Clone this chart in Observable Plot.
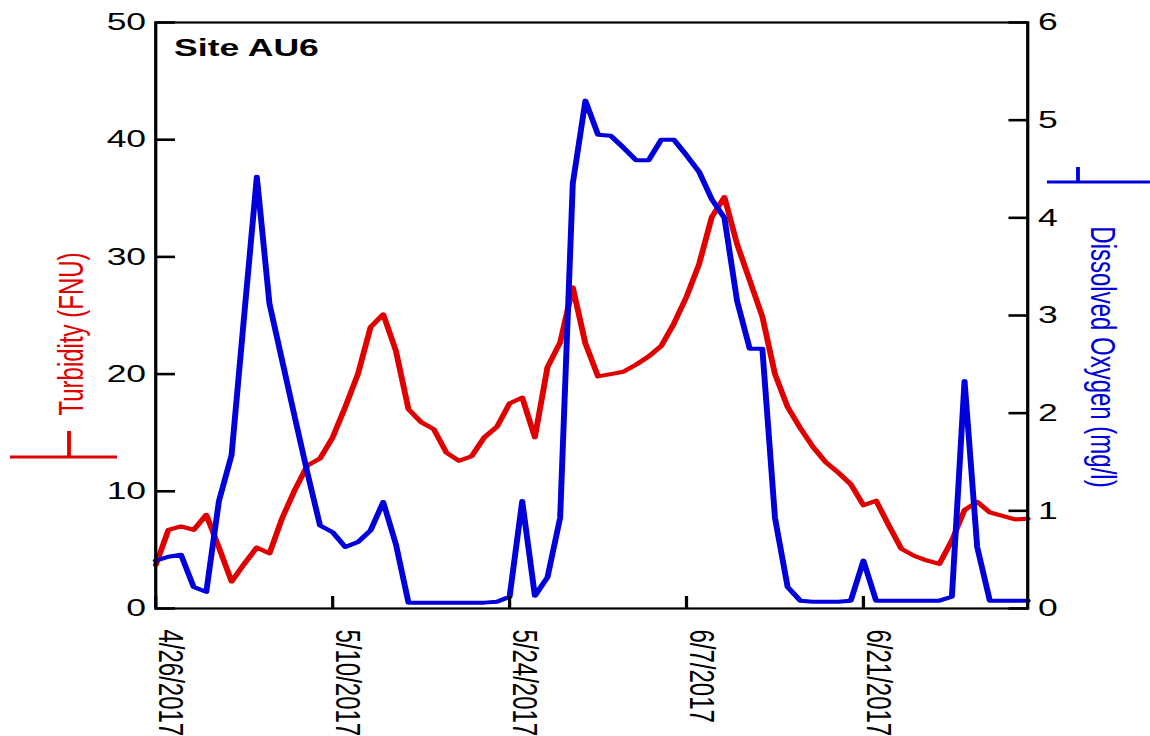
<!DOCTYPE html>
<html>
<head>
<meta charset="utf-8">
<script src="https://cdn.jsdelivr.net/npm/d3@7"></script>
<script src="https://cdn.jsdelivr.net/npm/@observablehq/plot@0.6"></script>
<style>
  html, body { margin: 0; padding: 0; background: #fff; overflow: hidden; }
  #chart svg { display: block; transform-origin: 0 0; }
</style>
</head>
<body>
<div id="chart"></div>
<script>
// Daily readings at site AU6
const dates = [
  "2017-04-26","2017-04-27","2017-04-28","2017-04-29","2017-04-30",
  "2017-05-01","2017-05-02","2017-05-03","2017-05-04","2017-05-05","2017-05-06","2017-05-07","2017-05-08","2017-05-09","2017-05-10",
  "2017-05-11","2017-05-12","2017-05-13","2017-05-14","2017-05-15","2017-05-16","2017-05-17","2017-05-18","2017-05-19","2017-05-20",
  "2017-05-21","2017-05-22","2017-05-23","2017-05-24","2017-05-25","2017-05-26","2017-05-27","2017-05-28","2017-05-29","2017-05-30","2017-05-31",
  "2017-06-01","2017-06-02","2017-06-03","2017-06-04","2017-06-05","2017-06-06","2017-06-07","2017-06-08","2017-06-09","2017-06-10",
  "2017-06-11","2017-06-12","2017-06-13","2017-06-14","2017-06-15","2017-06-16","2017-06-17","2017-06-18","2017-06-19","2017-06-20",
  "2017-06-21","2017-06-22","2017-06-23","2017-06-24","2017-06-25","2017-06-26","2017-06-27","2017-06-28","2017-06-29","2017-06-30",
  "2017-07-01","2017-07-02","2017-07-03","2017-07-04"
];

// Turbidity (FNU)
const turbidity = [
  3.7, 6.7, 7.0, 6.7, 8.0, 5.2, 2.3, 3.8, 5.2, 4.7,
  7.7, 10.1, 12.2, 12.8, 14.6, 17.2, 20.0, 24.0, 25.1, 22.0,
  17.0, 15.9, 15.3, 13.3, 12.6, 13.0, 14.6, 15.5, 17.5, 18.0,
  14.6, 20.6, 22.7, 27.4, 22.6, 19.8, 20.0, 20.2, 20.8, 21.5,
  22.4, 24.3, 26.6, 29.4, 33.4, 35.1, 31.1, 28.0, 24.9, 20.0,
  17.2, 15.4, 13.8, 12.5, 11.6, 10.6, 8.8, 9.2, 7.1, 5.1,
  4.5, 4.1, 3.8, 5.8, 8.4, 9.1, 8.2, 7.9, 7.6, 7.65
];

// Dissolved oxygen (mg/l)
const dissolvedOxygen = [
  0.49, 0.53, 0.55, 0.22, 0.17, 1.10, 1.57, 3.00, 4.42, 3.12,
  2.54, 1.96, 1.39, 0.85, 0.78, 0.63, 0.68, 0.80, 1.09, 0.66,
  0.06, 0.06, 0.06, 0.06, 0.06, 0.06, 0.06, 0.07, 0.12, 1.10,
  0.13, 0.32, 0.93, 4.35, 5.20, 4.85, 4.84, 4.72, 4.59, 4.59,
  4.80, 4.80, 4.64, 4.47, 4.19, 4.00, 3.15, 2.66, 2.66, 0.93,
  0.22, 0.08, 0.07, 0.07, 0.07, 0.08, 0.49, 0.08, 0.08, 0.08,
  0.08, 0.08, 0.08, 0.12, 2.33, 0.63, 0.08, 0.08, 0.08, 0.08
];

const dateTicks = ["4/26/2017", "5/10/2017", "5/24/2017", "6/7/2017", "6/21/2017"];
const turbidityTicks = [0, 10, 20, 30, 40, 50];
const oxygenTicks = [0, 1, 2, 3, 4, 5, 6];

const siteLabel = "Site AU6";
const turbidityTitle = "Turbidity (FNU)";
const oxygenTitle = "Dissolved Oxygen (mg/l)";

// ---- layout ----
// The figure is drawn narrow and widened with a horizontal stretch,
// giving the wide lettering and the thicker vertical strokes.
const STRETCH = 1.48;
const FULL_W = 1150;
const W = FULL_W / STRETCH;
const H = 736;
const X0 = 155 / STRETCH;         // left edge of the frame
const X1 = 1027 / STRETCH;        // right edge of the frame
const TOP = 22, BOTTOM = 608;

const RED = "#e00000";
const BLUE = "#0000dd";
const FONT = "'Liberation Sans', Arial, Helvetica, sans-serif";

// DO shares the turbidity scale: 0–6 mg/l spans 0–50 FNU
const TURB_MAX = 50, DO_MAX = 6;
const doToTurb = v => v * TURB_MAX / DO_MAX;

const parseDay = d3.utcParse("%Y-%m-%d");
const parseTick = d3.utcParse("%m/%d/%Y");

const rows = dates.map((d, i) => ({
  date: parseDay(d),
  turbidity: turbidity[i],
  oxygen: dissolvedOxygen[i]
}));

const Y_TICK = 20 / STRETCH;  // inward tick length on the value axes
const X_TICK = 12;            // inward tick length on the date axis

const chart = Plot.plot({
  width: W,
  height: H,
  marginLeft: X0,
  marginRight: W - X1,
  marginTop: TOP,
  marginBottom: H - BOTTOM,
  style: {
    fontFamily: FONT,
    fontSize: "24px",
    background: "#fff",
    color: "#000",
    overflow: "visible"
  },
  x: {type: "utc", domain: [parseDay(dates[0]), parseDay(dates[dates.length - 1])], axis: null},
  y: {domain: [0, TURB_MAX], axis: null},
  marks: [
    Plot.line(rows, {x: "date", y: "turbidity", stroke: RED, strokeWidth: 4, strokeLinejoin: "round"}),
    Plot.line(rows, {x: "date", y: d => doToTurb(d.oxygen), stroke: BLUE, strokeWidth: 4, strokeLinejoin: "round"}),

    Plot.frame({stroke: "#000", strokeWidth: 2.2}),

    // left axis: inward ticks + labels
    Plot.axisY(turbidityTicks, {anchor: "left", tickSize: Y_TICK, dx: Y_TICK, fill: "none", strokeWidth: 2.6, label: null}),
    Plot.axisY(turbidityTicks, {anchor: "left", tickSize: 0, tickPadding: 6.5, fontSize: 24, label: null}),

    // right axis (dissolved oxygen): inward ticks + labels
    Plot.axisY(oxygenTicks.map(doToTurb), {anchor: "right", tickSize: Y_TICK, dx: -Y_TICK, fill: "none", strokeWidth: 2.6, label: null}),
    Plot.axisY(oxygenTicks.map(doToTurb), {
      anchor: "right", tickSize: 0, tickPadding: 7, fontSize: 24, label: null,
      tickFormat: v => String(Math.round(v * DO_MAX / TURB_MAX))
    }),

    // date axis: inward ticks + rotated labels
    Plot.axisX(dateTicks.map(parseTick), {anchor: "bottom", tickSize: X_TICK, dy: -X_TICK, fill: "none", strokeWidth: 2.2, label: null}),
    Plot.text(dateTicks, {
      x: d => parseTick(d), text: d => d,
      frameAnchor: "bottom", rotate: 90,
      textAnchor: "start", lineAnchor: "middle",
      dx: 10, dy: 21, fontSize: 24, fill: "#000"
    }),

    // site name inside the frame
    Plot.text([siteLabel], {
      text: d => d, frameAnchor: "top-left",
      textAnchor: "start", lineAnchor: "top",
      dx: 12.4, dy: 16, fontSize: 24, fontWeight: "bold", fill: "#000"
    }),

    // axis titles
    Plot.text([turbidityTitle], {
      text: d => d, frameAnchor: "left", rotate: -90,
      textAnchor: "middle", lineAnchor: "middle",
      dx: -57, dy: 18.5, fontSize: 24, fill: RED
    }),
    Plot.text([oxygenTitle], {
      text: d => d, frameAnchor: "right", rotate: 90,
      textAnchor: "middle", lineAnchor: "middle",
      dx: 50.4, dy: 41.5, fontSize: 24, fill: BLUE
    })
  ]
});

// series keys beside each axis title
const svg = d3.select(chart);
const key = svg.append("g").attr("fill", "none").attr("stroke-linecap", "butt");
function seriesKey(color, xa, xb, xv, y, yTop) {
  key.append("line").attr("x1", xa).attr("x2", xb).attr("y1", y).attr("y2", y)
    .attr("stroke", color).attr("stroke-width", 3);
  key.append("line").attr("x1", xv).attr("x2", xv).attr("y1", yTop).attr("y2", y)
    .attr("stroke", color).attr("stroke-width", 2.6);
}
seriesKey(RED, 10 / STRETCH, 117 / STRETCH, 69 / STRETCH, 457, 431);
seriesKey(BLUE, 1047 / STRETCH, FULL_W / STRETCH, 1078 / STRETCH, 182, 167);

chart.style.transform = `scaleX(${STRETCH})`;
document.getElementById("chart").append(chart);
</script>
</body>
</html>
